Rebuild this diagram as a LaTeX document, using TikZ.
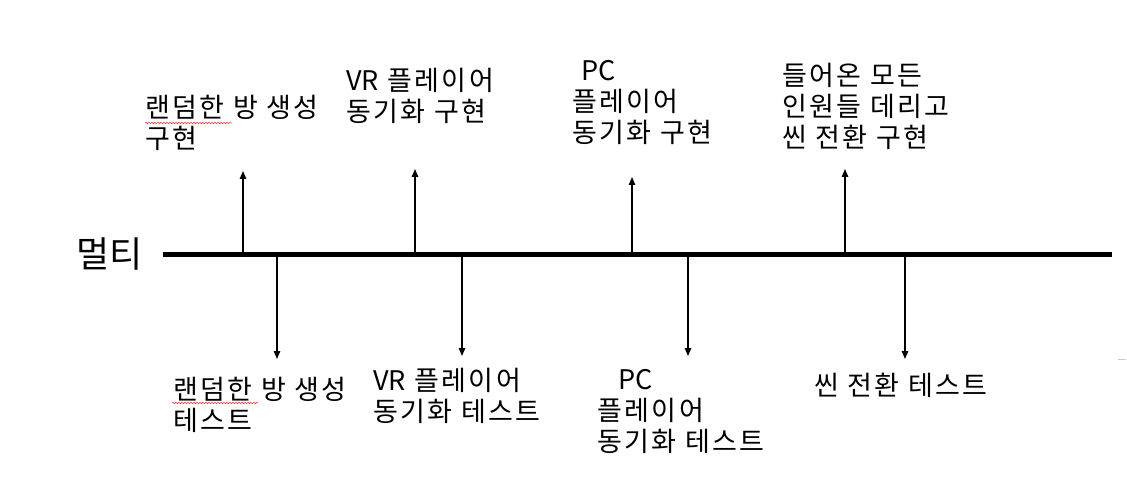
\documentclass[tikz,border=0pt]{standalone}
\usepackage{fontspec}
\newfontfamily\kr[LetterSpace=9]{Noto Sans CJK KR}
\newfontfamily\krt{Noto Sans CJK KR}
\newcommand{\lat}[1]{{\krt #1}}
\usetikzlibrary{arrows.meta,decorations.pathmorphing}
\tikzset{
  lbl/.style={font=\kr\fontsize{27}{31}\selectfont, align=left, anchor=north west, inner sep=0pt},
  conn/.style={line width=1.4pt, -{Triangle[length=8pt,width=6.5pt]}},
  squig/.style={red!80, line width=0.5pt, decorate, decoration={snake, amplitude=0.8pt, segment length=3pt}}
}
\begin{document}
\begin{tikzpicture}[x=1pt,y=-1pt]
\useasboundingbox (0,0) rectangle (1127,494);
% title
\node[font=\krt\fontsize{36}{40}\selectfont, anchor=west, inner sep=0pt] (title) at (76,254) {멀티};
% timeline
\coordinate (ls) at (163,255);
\coordinate (le) at (1112,255);
\draw[line width=5pt] (ls) -- (le);
% base points on the line
\coordinate (u1) at (243,255); \coordinate (u2) at (415,255);
\coordinate (u3) at (632,255); \coordinate (u4) at (845,255);
\coordinate (d1) at (277,255); \coordinate (d2) at (462,255);
\coordinate (d3) at (688,255); \coordinate (d4) at (905,255);
% arrow tips
\coordinate (tu1) at (243,171); \coordinate (tu2) at (415,169);
\coordinate (tu3) at (632,177); \coordinate (tu4) at (845,169);
\coordinate (td1) at (277,359); \coordinate (td2) at (462,356);
\coordinate (td3) at (688,356); \coordinate (td4) at (905,359);
\draw[conn] (u1) -- (tu1);
\draw[conn] (u2) -- (tu2);
\draw[conn] (u3) -- (tu3);
\draw[conn] (u4) -- (tu4);
\draw[conn] (d1) -- (td1);
\draw[conn] (d2) -- (td2);
\draw[conn] (d3) -- (td3);
\draw[conn] (d4) -- (td4);
% top labels
\node[lbl] (a1) at (145,95) {랜덤한 방 생성\\구현};
\node[lbl] (a2) at (346,68) {\lat{VR} 플레이어\\동기화 구현};
\node[lbl] (a3) at (572,60) {\hspace{9pt}\lat{PC}\\플레이어\\동기화 구현};
\node[lbl] (a4) at (782,63) {들어온 모든\\인원들 데리고\\씬 전환 구현};
% bottom labels
\node[lbl] (b1) at (173,377) {랜덤한 방 생성\\테스트};
\node[lbl] (b2) at (373,368) {\lat{VR} 플레이어\\동기화 테스트};
\node[lbl] (b3) at (597,369) {\hspace{21pt}\lat{PC}\\플레이어\\동기화 테스트};
\node[lbl] (b4) at (814,373) {씬 전환 테스트};
% spell-check squiggles
\draw[squig] (145,123) -- (232,123);
\draw[squig] (172,403) -- (258,403);
% small artifact
\draw[gray!40, line width=0.8pt] (1118,359) -- (1126,359);
\end{tikzpicture}
\end{document}
